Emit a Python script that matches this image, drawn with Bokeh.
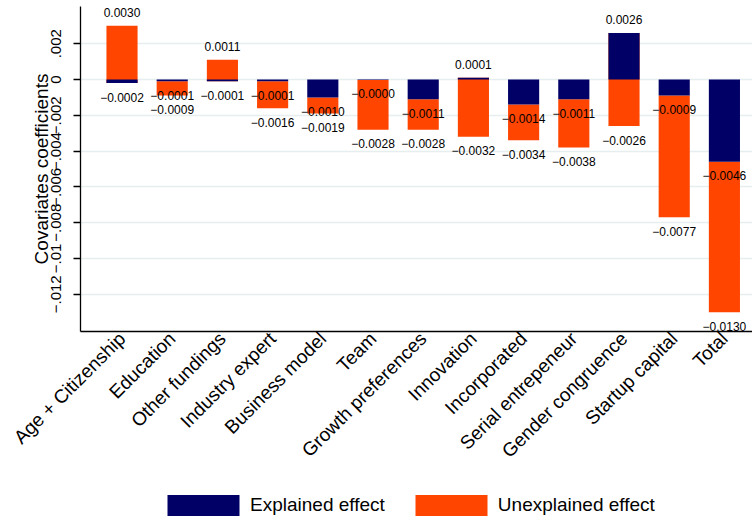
import math
from bokeh.plotting import figure
from bokeh.layouts import column
from bokeh.models import (ColumnDataSource, FixedTicker, CustomJSTickFormatter,
                          Legend, LegendItem, Range1d)
from bokeh.embed import file_html
from bokeh.resources import INLINE

categories = ["Age + Citizenship", "Education", "Other fundings", "Industry expert",
              "Business model", "Team", "Growth preferences", "Innovation",
              "Incorporated", "Serial entrepeneur", "Gender congruence",
              "Startup capital", "Total"]
explained = [-0.0002, -0.0001, -0.0001, -0.0001, -0.0010, -0.00002, -0.0011,
             0.0001, -0.0014, -0.0011, 0.0026, -0.0009, -0.0046]
# explained + unexplained (end of the stacked bar)
total = [0.0030, -0.0009, 0.0011, -0.0016, -0.0019, -0.0028, -0.0028,
         -0.0032, -0.0034, -0.0038, -0.0026, -0.0077, -0.0130]
y_ticks = [-0.012, -0.010, -0.008, -0.006, -0.004, -0.002, 0.0, 0.002]
y_tick_labels = ["\u2212.012", "\u2212.01", "\u2212.008", "\u2212.006",
                 "\u2212.004", "\u2212.002", "0", ".002"]
legend_labels = ["Explained effect", "Unexplained effect"]

NAVY = "#000066"
ORANGE = "#ff4500"
FONT = "Liberation Sans"

xs = list(range(len(categories)))
bars = ColumnDataSource(dict(x=xs, explained=explained, total=total))

lab_x = xs + xs
lab_y = explained + total
lab_text = [f"{v:.4f}".replace("-", "\u2212") for v in lab_y]
lab_off = [-13 if v > 0 else 14 for v in lab_y]
labels = ColumnDataSource(dict(x=lab_x, y=lab_y, text=lab_text, off=lab_off))

p = figure(width=752, height=491, output_backend="svg", toolbar_location=None,
           x_range=Range1d(-0.827, -0.827 + 672 / 50.2),
           y_range=Range1d(-0.01408, 0.00408),
           min_border_left=80, min_border_right=0, min_border_top=6,
           min_border_bottom=160)
p.outline_line_color = None
p.background_fill_color = "white"
p.border_fill_color = "white"

r_un = p.vbar(x="x", bottom="explained", top="total", width=0.62, source=bars,
              fill_color=ORANGE, line_color=None)
r_ex = p.vbar(x="x", bottom=0, top="explained", width=0.62, source=bars,
              fill_color=NAVY, line_color=None)

p.text(x="x", y="y", text="text", y_offset="off", source=labels,
       text_align="center", text_baseline="middle", text_font_size="12px",
       text_font={"value": FONT}, text_color="black")

# grid
p.xgrid.grid_line_color = None
p.ygrid.grid_line_color = "#e6eef0"
p.ygrid.grid_line_width = 1.5

xaxis = p.xaxis[0]
xaxis.ticker = FixedTicker(ticks=xs)
xaxis.major_label_overrides = {i: c for i, c in enumerate(categories)}
xaxis.major_label_orientation = math.pi / 4
xaxis.major_label_text_font_size = "19px"
xaxis.major_label_text_font = FONT
xaxis.major_label_text_color = "black"
xaxis.major_label_standoff = 4
xaxis.major_tick_out = 0
xaxis.major_tick_in = 0
xaxis.minor_tick_out = 0
xaxis.minor_tick_in = 0
xaxis.axis_line_color = "black"
xaxis.axis_line_width = 1.3

p.yaxis.ticker = FixedTicker(ticks=y_ticks)
p.yaxis.formatter = CustomJSTickFormatter(args=dict(vals=y_ticks, labs=y_tick_labels), code="""
let best = 0;
for (let i = 0; i < vals.length; i++) {
  if (Math.abs(vals[i] - tick) < Math.abs(vals[best] - tick)) best = i;
}
return labs[best];
""")
p.yaxis.major_label_orientation = "vertical"
p.yaxis.major_label_text_font_size = "15px"
p.yaxis.major_label_text_font = FONT
p.yaxis.major_label_text_color = "black"
p.yaxis.major_label_standoff = 12
p.yaxis.major_tick_out = 7
p.yaxis.major_tick_in = 0
p.yaxis.minor_tick_out = 0
p.yaxis.minor_tick_in = 0
p.yaxis.major_tick_line_width = 1.3
p.yaxis.axis_line_color = "black"
p.yaxis.axis_line_width = 1.3
p.yaxis.axis_label = "Covariates coefficients"
p.yaxis.axis_label_text_font_size = "19px"
p.yaxis.axis_label_text_font = FONT
p.yaxis.axis_label_text_font_style = "normal"
p.yaxis.axis_label_text_color = "black"
p.yaxis.axis_label_standoff = -3

# legend in its own strip below the chart (frame aligned with the chart's frame)
q = figure(width=752, height=31, output_backend="svg", toolbar_location=None,
           x_range=Range1d(0, 1), y_range=Range1d(0, 1),
           x_axis_location=None, y_axis_location=None,
           min_border_left=80, min_border_right=0, min_border_top=0,
           min_border_bottom=0)
q.outline_line_color = None
q.xgrid.grid_line_color = None
q.ygrid.grid_line_color = None
swatch = ColumnDataSource(dict(x=[-5.0], top=[-5.0]))
l_ex = q.vbar(x="x", top="top", width=0.5, source=swatch, fill_color=NAVY, line_color=None)
l_un = q.vbar(x="x", top="top", width=0.5, source=swatch, fill_color=ORANGE, line_color=None)

legend = Legend(items=[LegendItem(label=legend_labels[0], renderers=[l_ex]),
                       LegendItem(label=legend_labels[1], renderers=[l_un])],
                orientation="horizontal", location=(78, 4),
                glyph_width=90, glyph_height=26, label_height=21,
                label_standoff=2, spacing=21, padding=0, margin=0,
                border_line_color=None, background_fill_alpha=0,
                label_text_font=FONT, label_text_font_size="19px",
                label_text_color="black")
q.add_layout(legend, "center")

layout = column(p, q, spacing=0)
open("out.html", "w").write(file_html(layout, INLINE))
